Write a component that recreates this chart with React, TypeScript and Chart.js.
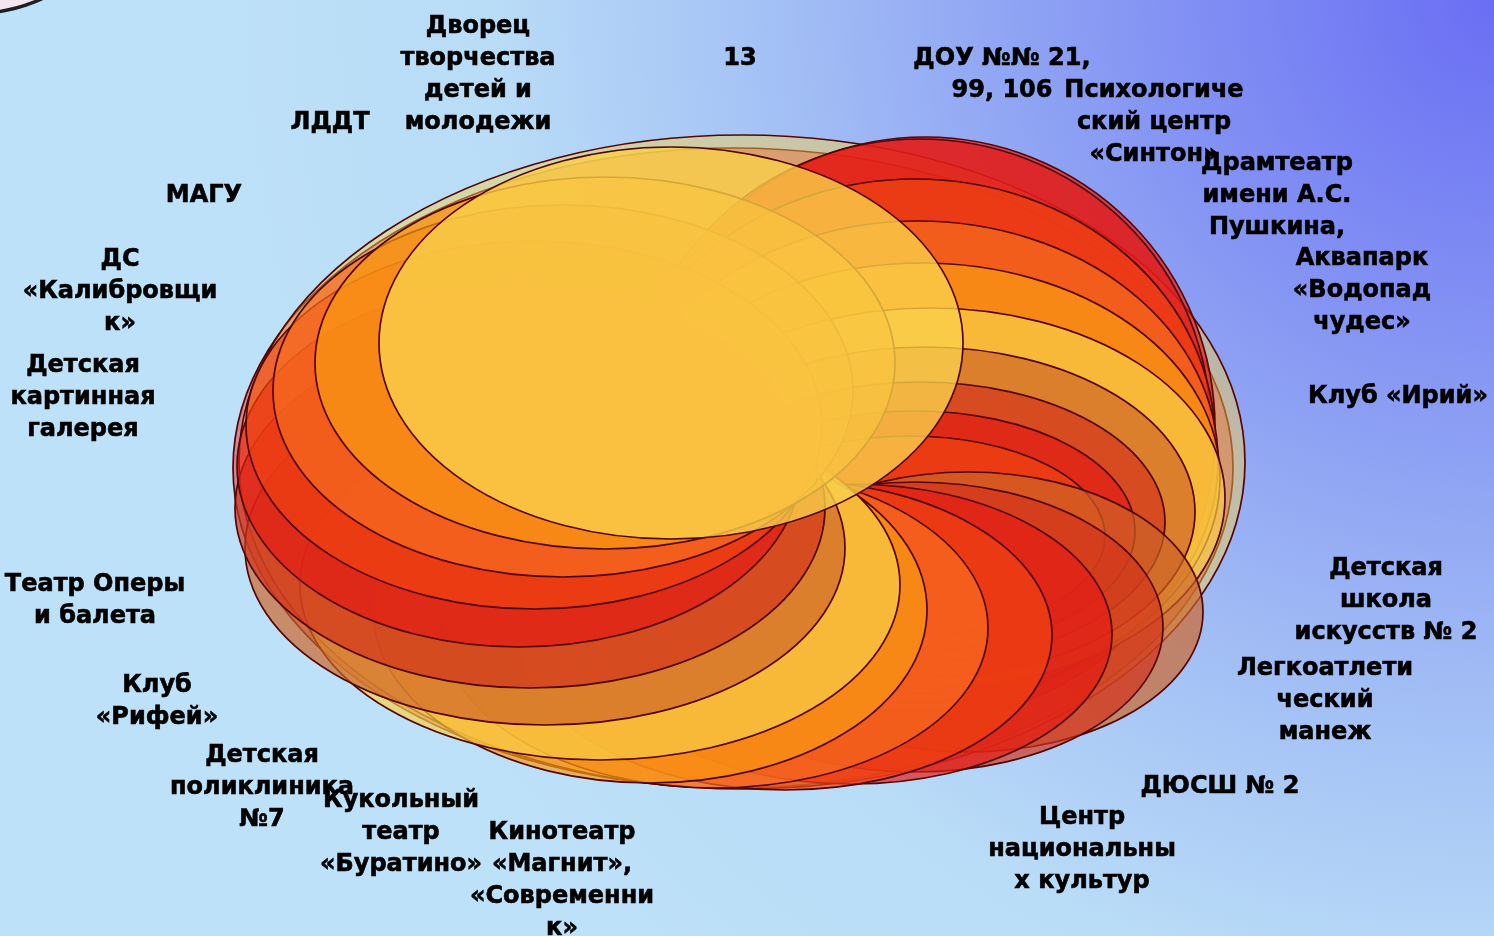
import React, { useEffect, useRef } from "react";
import { Chart, registerables } from "chart.js";

Chart.register(...registerables);

const WIDTH = 1494;
const HEIGHT = 936;

// Palette of the swirl rings
const tones: Record<string, string> = {
  yellow: "#f9d04a",
  amber: "#f99c12",
  orange: "#f86e20",
  orangeRed: "#f04412",
  red: "#e51a14",
  darkRed: "#d3321a",
  brown: "#cd6428",
};

// Ring layers, listed from the bottom layer to the top one (diagram units)
const ringTone = [
  "red", "yellow", "red",
  "red", "orangeRed", "orange", "amber", "yellow", "brown", "darkRed", "red", "orangeRed",
  "brown", "darkRed", "red", "orangeRed", "orange", "amber", "yellow",
  "brown", "darkRed", "red", "orangeRed", "orange", "amber",
  "yellow",
];
const ringCenterX = [733, 742, 925, 920, 915, 918, 922, 930, 925, 920, 915, 910, 968, 915, 852, 785, 715, 650, 600, 545, 530, 519, 534, 563, 605, 671];
const ringCenterY = [468, 462, 428, 424, 441, 461, 478, 498, 512, 522, 531, 536, 612, 627, 634, 635, 628, 610, 585, 548, 508, 466, 425, 391, 363, 343];
const ringRadiusX = [500, 503, 290, 290, 300, 300, 298, 295, 270, 245, 220, 195, 235, 248, 260, 267, 273, 277, 300, 300, 295, 282, 288, 290, 290, 292];
const ringRadiusY = [320, 327, 291, 285, 262, 240, 215, 190, 165, 140, 120, 100, 140, 145, 150, 155, 160, 173, 175, 177, 180, 181, 184, 186, 186, 196];

// Labels placed around the swirl
const placeNames = [
  "Дворец\nтворчества\nдетей и\nмолодежи",
  "ЛДДТ",
  "13",
  "ДОУ №№ 21,\n99, 106",
  "Психологиче\nский центр\n«Синтон»",
  "Драмтеатр\nимени А.С.\nПушкина,",
  "Аквапарк\n«Водопад\nчудес»",
  "Клуб «Ирий»",
  "Детская\nшкола\nискусств № 2",
  "Легкоатлети\nческий\nманеж",
  "ДЮСШ № 2",
  "Центр\nнациональны\nх культур",
  "Кинотеатр\n«Магнит»,\n«Современни\nк»",
  "Кукольный\nтеатр\n«Буратино»",
  "Детская\nполиклиника\n№7",
  "Клуб\n«Рифей»",
  "Театр Оперы\nи балета",
  "Детская\nкартинная\nгалерея",
  "ДС\n«Калибровщи\nк»",
  "МАГУ",
];
const placeX = [478, 330, 740, 1002, 1154, 1277, 1362, 1398, 1386, 1325, 1220, 1082, 562, 401, 262, 157, 95, 83, 120, 204];
const placeY = [72, 120, 56, 72, 120, 193, 288, 394, 598, 698, 784, 847, 878, 830, 785, 699, 598, 395, 289, 193];

const LINE_HEIGHT = 32;

const ringsPlugin = {
  id: "swirlRings",
  beforeDatasetsDraw(chart: any) {
    const { ctx } = chart;
    const xs = chart.scales.x;
    const ys = chart.scales.y;
    ctx.save();
    // corner decoration (edge of a neighbouring shape)
    ctx.beginPath();
    ctx.arc(xs.getPixelForValue(-22), ys.getPixelForValue(-137), 150, 0, Math.PI * 2);
    ctx.fillStyle = "#f3e6f1";
    ctx.fill();
    ctx.lineWidth = 3.5;
    ctx.strokeStyle = "#1e1e22";
    ctx.stroke();

    const n = ringCenterX.length;
    for (let i = 0; i < n; i++) {
      const px = xs.getPixelForValue(ringCenterX[i]);
      const py = ys.getPixelForValue(ringCenterY[i]);
      const rx = Math.abs(xs.getPixelForValue(ringCenterX[i] + ringRadiusX[i]) - px);
      const ry = Math.abs(ys.getPixelForValue(ringCenterY[i] + ringRadiusY[i]) - py);
      ctx.beginPath();
      ctx.ellipse(px, py, rx, ry, 0, 0, Math.PI * 2);
      ctx.globalAlpha = i < 2 ? 0.45 : i === n - 1 ? 0.8 : 0.68;
      ctx.fillStyle = tones[ringTone[i]];
      ctx.fill();
      ctx.globalAlpha = 1;
      ctx.lineWidth = 1.7;
      ctx.strokeStyle = "#520606";
      ctx.stroke();
    }
    ctx.restore();
  },
};

const labelsPlugin = {
  id: "placeLabels",
  afterDatasetsDraw(chart: any) {
    const { ctx } = chart;
    const meta = chart.getDatasetMeta(0);
    ctx.save();
    ctx.font = "bold 24px 'DejaVu Sans', Verdana, sans-serif";
    ctx.fillStyle = "#000000";
    ctx.strokeStyle = "#000000";
    ctx.lineWidth = 0.6;
    ctx.textAlign = "center";
    ctx.textBaseline = "middle";
    meta.data.forEach((el: any, i: number) => {
      const lines = placeNames[i].split("\n");
      lines.forEach((line, j) => {
        const dy = (j - (lines.length - 1) / 2) * LINE_HEIGHT + 3;
        ctx.fillText(line, el.x, el.y + dy);
        ctx.strokeText(line, el.x, el.y + dy);
      });
    });
    ctx.restore();
  },
};

export default function App() {
  const ref = useRef<HTMLCanvasElement>(null);
  useEffect(() => {
    const canvas = ref.current;
    if (!canvas) return;
    const chart = new Chart(canvas, {
      type: "scatter",
      data: {
        datasets: [
          {
            data: placeX.map((x, i) => ({ x, y: placeY[i] })),
            pointRadius: 0,
            pointHoverRadius: 0,
          },
        ],
      },
      options: {
        animation: false,
        responsive: false,
        events: [],
        layout: { padding: 0 },
        plugins: { legend: { display: false }, tooltip: { enabled: false } },
        scales: {
          x: { type: "linear", min: 0, max: WIDTH, display: false },
          y: { type: "linear", min: 0, max: HEIGHT, reverse: true, display: false },
        },
      },
      plugins: [ringsPlugin, labelsPlugin],
    } as any);
    return () => chart.destroy();
  }, []);
  return (
    <div
      style={{
        position: "fixed",
        left: 0,
        top: 0,
        width: WIDTH,
        height: HEIGHT,
        overflow: "hidden",
        background:
          "radial-gradient(circle at 100% 0%, #6a6ef3 0px, #8798f3 380px, #a3c0f5 720px, #b9dcf7 1000px, #bde1f8 1300px)",
      }}
    >
      <canvas ref={ref} width={WIDTH} height={HEIGHT} style={{ display: "block" }} />
    </div>
  );
}
